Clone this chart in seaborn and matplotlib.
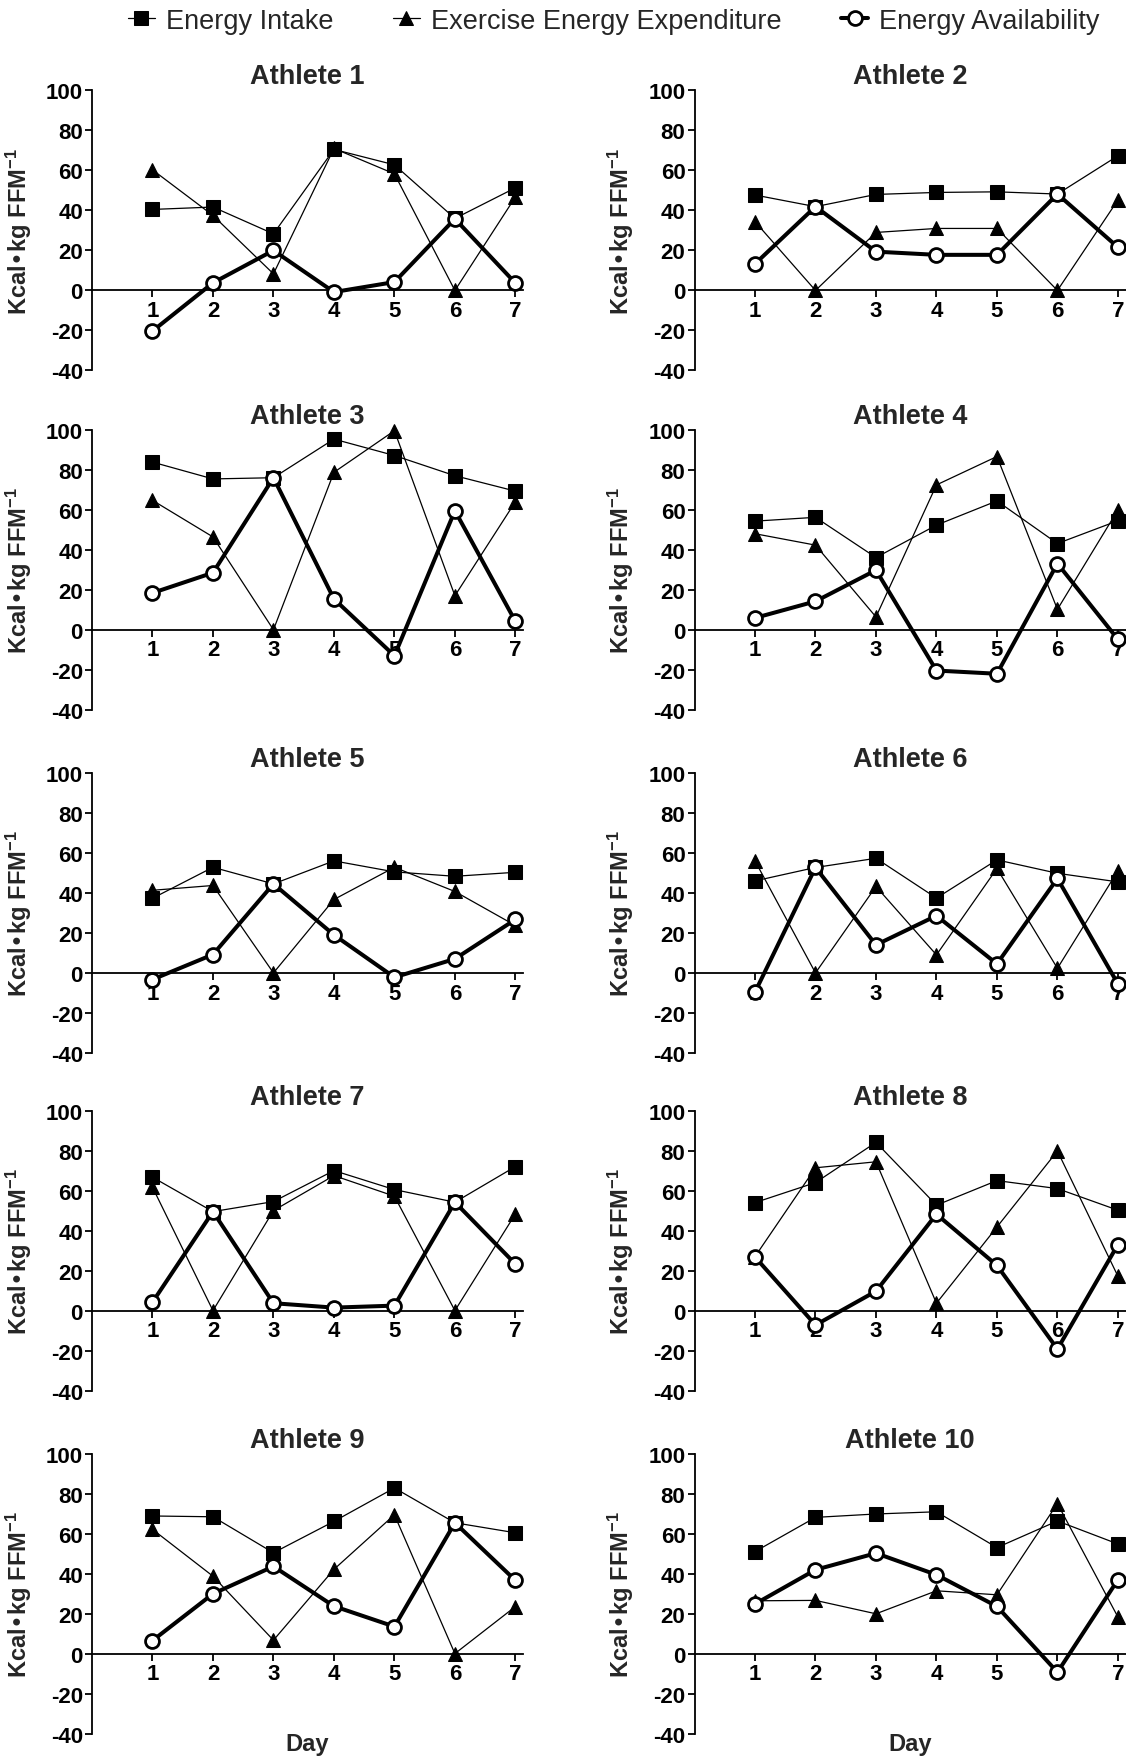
import matplotlib
matplotlib.use("Agg")
import matplotlib.pyplot as plt
import seaborn as sns

# =========================================
# DATA
# =========================================
days = [1, 2, 3, 4, 5, 6, 7]
athletes = ["Athlete 1", "Athlete 2", "Athlete 3", "Athlete 4", "Athlete 5",
            "Athlete 6", "Athlete 7", "Athlete 8", "Athlete 9", "Athlete 10"]

# Energy intake (squares)
energy_intake = [
    [40.5, 41.7, 28.3, 70.5, 62.8, 36.0, 51.3],
    [47.7, 41.9, 48.0, 49.0, 49.3, 48.2, 67.3],
    [83.8, 75.4, 76.0, 95.3, 87.1, 77.0, 69.3],
    [54.3, 56.2, 36.1, 52.3, 64.4, 43.1, 54.5],
    [37.3, 52.8, 44.5, 56.0, 50.5, 48.3, 50.3],
    [46.0, 52.7, 57.3, 37.4, 56.5, 49.8, 45.5],
    [66.7, 49.5, 54.5, 70.0, 60.5, 54.2, 72.0],
    [54.0, 64.0, 84.1, 52.7, 65.0, 61.0, 50.2],
    [68.8, 68.4, 50.4, 66.1, 82.8, 65.4, 60.4],
    [51.0, 68.1, 69.8, 70.9, 53.0, 66.3, 54.8],
]

# Exercise energy expenditure (triangles)
exercise_ee = [
    [60.3, 37.5, 8.3, 71.0, 58.3, 0.0, 46.7],
    [34.4, 0.0, 29.0, 31.0, 31.0, 0.0, 45.2],
    [64.7, 46.4, 0.0, 78.7, 99.5, 17.0, 64.0],
    [48.0, 42.3, 6.4, 72.4, 86.6, 10.2, 59.9],
    [41.3, 43.7, 0.0, 36.7, 52.8, 40.7, 23.7],
    [56.0, 0.0, 43.2, 9.0, 52.2, 2.3, 51.0],
    [61.7, 0.0, 50.0, 67.5, 57.2, 0.0, 48.3],
    [27.0, 71.4, 74.4, 3.7, 41.8, 79.8, 17.2],
    [62.1, 38.7, 6.7, 42.1, 69.4, 0.0, 23.5],
    [26.4, 26.6, 19.9, 31.4, 29.4, 75.0, 18.3],
]

# Energy availability (open circles)
energy_avail = [
    [-20.3, 3.8, 20.0, -0.8, 4.2, 35.8, 3.7],
    [13.3, 41.9, 19.4, 17.8, 17.8, 48.2, 21.6],
    [18.4, 28.5, 76.0, 15.4, -13.0, 59.5, 4.2],
    [5.9, 14.2, 29.8, -20.4, -22.0, 33.1, -4.8],
    [-3.3, 9.2, 44.5, 19.0, -2.2, 7.0, 26.7],
    [-9.6, 52.7, 14.0, 28.6, 4.5, 47.2, -5.5],
    [4.2, 49.5, 3.7, 1.5, 2.5, 54.2, 23.3],
    [26.8, -7.2, 9.7, 48.2, 22.6, -19.2, 33.0],
    [6.5, 29.9, 43.6, 23.7, 13.5, 65.4, 36.6],
    [24.8, 41.9, 50.2, 39.4, 23.6, -9.3, 36.9],
]

y_ticks = [-40, -20, 0, 20, 40, 60, 80, 100]

# =========================================
# STYLE
# =========================================
sns.set_style("white")
plt.rcParams["font.family"] = ["Liberation Sans", "DejaVu Sans"]
plt.rcParams["font.weight"] = "bold"
plt.rcParams["axes.titleweight"] = "bold"
plt.rcParams["axes.unicode_minus"] = False
plt.rcParams["mathtext.default"] = "regular"

fig = plt.figure(figsize=(11.26, 17.58), dpi=100)

# panel geometry (figure fractions)
col_left = [0.0817, 0.6168]
row_bottom = [0.7887, 0.5957, 0.4005, 0.2084, 0.0133]
ax_w, ax_h = 0.383, 0.1593

axes = []
for i, name in enumerate(athletes):
    r, c = divmod(i, 2)
    ax = fig.add_axes([col_left[c], row_bottom[r], ax_w, ax_h])
    axes.append(ax)

    sns.lineplot(x=days, y=exercise_ee[i], ax=ax, color="black", linewidth=0.9,
                 marker="^", markersize=9.5, markeredgecolor="black",
                 clip_on=False, zorder=3, label="Exercise Energy Expenditure")
    sns.lineplot(x=days, y=energy_intake[i], ax=ax, color="black", linewidth=0.9,
                 marker="s", markersize=9.5, markeredgecolor="black",
                 clip_on=False, zorder=4, label="Energy Intake")
    sns.lineplot(x=days, y=energy_avail[i], ax=ax, color="black", linewidth=2.9,
                 marker="o", markersize=10, markerfacecolor="white",
                 markeredgecolor="black", markeredgewidth=2.0,
                 clip_on=False, zorder=5, label="Energy Availability")
    ax.get_legend().remove()

    ax.set_xlim(0, 7.13)
    ax.set_ylim(-40, 100)
    ax.set_xticks(days)
    ax.set_yticks(y_ticks)
    ax.spines["top"].set_visible(False)
    ax.spines["right"].set_visible(False)
    ax.spines["bottom"].set_position(("data", 0))
    for s in ["left", "bottom"]:
        ax.spines[s].set_linewidth(1.3)
        ax.spines[s].set_color("black")
    ax.tick_params(axis="both", direction="out", length=5, width=1.3,
                   labelsize=16, colors="black", bottom=True, left=True)
    ax.tick_params(axis="x", pad=2)
    ax.tick_params(axis="y", pad=1.5)

    ax.set_title(name, fontsize=19.5, pad=5)
    ax.set_ylabel("Kcal\u2022kg FFM$^{-1}$", fontsize=17, fontweight="bold")
    ax.yaxis.set_label_coords(-0.135, 0.5)
    ax.set_xlabel("")
    if r == 4:
        ax.text(0.5, -0.035, "Day", transform=ax.transAxes, ha="center",
                va="center", fontsize=17, fontweight="bold")

# =========================================
# LEGEND
# =========================================
handles, labels = axes[0].get_legend_handles_labels()
order = [labels.index("Energy Intake"),
         labels.index("Exercise Energy Expenditure"),
         labels.index("Energy Availability")]
fig.legend([handles[k] for k in order], [labels[k] for k in order],
           loc="center", bbox_to_anchor=(0.545, 0.9875), ncol=3, frameon=False,
           prop={"family": "Liberation Sans", "weight": "normal", "size": 19.5},
           handlelength=1.0, handletextpad=0.4, columnspacing=2.2)

fig.savefig("out.png", dpi=100)
